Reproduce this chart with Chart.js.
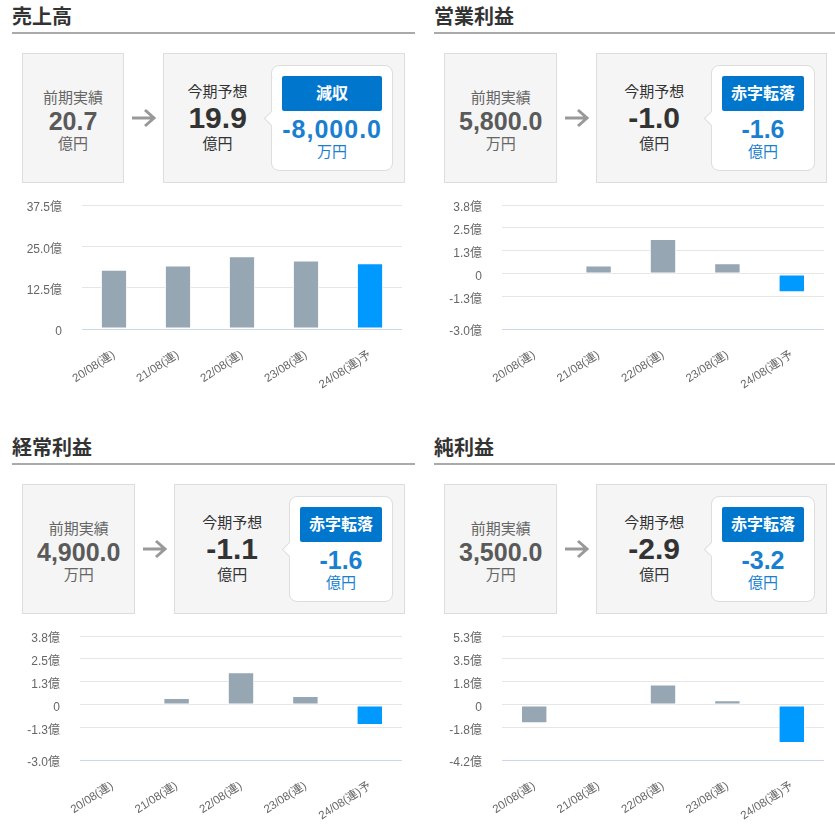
<!DOCTYPE html>
<html lang="ja">
<head>
<meta charset="utf-8">
<script src="https://cdn.jsdelivr.net/npm/chart.js@4.4.0/dist/chart.umd.min.js"></script>
<style>
  body { margin: 0; width: 835px; height: 829px; background: #fff; position: relative; overflow: hidden;
    font-family: "Liberation Sans", Arial, "Noto Sans CJK JP", sans-serif; }
  .panel { position: absolute; height: 431px; }
  .title { position: absolute; top: 7px; left: 0; right: 0; height: 25px; font-size: 20px; line-height: 20px;
    font-weight: bold; color: #333; border-bottom: 2px solid #aaa; }
  .row { position: absolute; top: 53px; left: 10px; width: 383px; height: 130px; display: flex; }
  .prev { box-sizing: border-box; min-width: 102px; padding: 6px 14px 0; background: #f5f5f5; border: 1px solid #ddd;
    display: flex; flex-direction: column; justify-content: center; align-items: center; }
  .arrow { width: 25px; margin: 0 7px; display: flex; align-items: center; }
  .fc { flex: 1; box-sizing: border-box; background: #f5f5f5; border: 1px solid #ddd; display: flex;
    align-items: center; padding-right: 11px; }
  .fc-main { flex: 1; display: flex; flex-direction: column; align-items: center; }
  .lbl { font-size: 15px; line-height: 20px; color: #666; }
  .num { font-size: 25px; line-height: 26px; font-weight: bold; color: #5a5a5a; }
  .unit { font-size: 15px; line-height: 20px; color: #666; }
  .fc .lbl, .fc .unit { color: #333; }
  .fc .num { font-size: 30px; line-height: 32px; color: #333; }
  .pop { position: relative; background: #fff; border: 1px solid #ddd; border-radius: 8px; padding: 10px;
    display: flex; flex-direction: column; text-align: center; }
  .pop::before { content: ''; position: absolute; left: -6px; top: 50%; width: 10px; height: 10px; margin-top: -5px;
    background: #fff; border-left: 1px solid #ddd; border-bottom: 1px solid #ddd; transform: rotate(45deg); }
  .badge { background: #0077cc; color: #fff; font-weight: bold; font-size: 16px; height: 35px; line-height: 35px;
    padding: 0 9px; border-radius: 2px; }
  .pnum { color: #1a7fd0; font-weight: bold; font-size: 25px; line-height: 28px; margin-top: 4px; }
  .pnum.wide { letter-spacing: 1px; }
  .punit { color: #1a7fd0; font-size: 15px; line-height: 17px; }
  .chart { position: absolute; top: 195px; left: 0; width: 390px; height: 200px; }
</style>
</head>
<body>

<div class="panel" style="left:12px; top:0; width:403px;">
  <div class="title">売上高</div>
  <div class="row">
    <div class="prev"><div class="lbl">前期実績</div><div class="num">20.7</div><div class="unit">億円</div></div>
    <div class="arrow"><svg width="25" height="20"><path d="M1 10 H23 M14 2 L23 10 L14 18" stroke="#999" stroke-width="3" fill="none"/></svg></div>
    <div class="fc">
      <div class="fc-main"><div class="lbl">今期予想</div><div class="num">19.9</div><div class="unit">億円</div></div>
      <div class="pop"><div class="badge">減収</div><div class="pnum wide">-8,000.0</div><div class="punit">万円</div></div>
    </div>
  </div>
  <div class="chart"><canvas id="salesChart"></canvas></div>
</div>

<div class="panel" style="left:434px; top:0; width:401px;">
  <div class="title">営業利益</div>
  <div class="row">
    <div class="prev"><div class="lbl">前期実績</div><div class="num">5,800.0</div><div class="unit">万円</div></div>
    <div class="arrow"><svg width="25" height="20"><path d="M1 10 H23 M14 2 L23 10 L14 18" stroke="#999" stroke-width="3" fill="none"/></svg></div>
    <div class="fc">
      <div class="fc-main"><div class="lbl">今期予想</div><div class="num">-1.0</div><div class="unit">億円</div></div>
      <div class="pop"><div class="badge">赤字転落</div><div class="pnum">-1.6</div><div class="punit">億円</div></div>
    </div>
  </div>
  <div class="chart"><canvas id="operatingChart"></canvas></div>
</div>

<div class="panel" style="left:12px; top:431px; width:403px;">
  <div class="title">経常利益</div>
  <div class="row">
    <div class="prev"><div class="lbl">前期実績</div><div class="num">4,900.0</div><div class="unit">万円</div></div>
    <div class="arrow"><svg width="25" height="20"><path d="M1 10 H23 M14 2 L23 10 L14 18" stroke="#999" stroke-width="3" fill="none"/></svg></div>
    <div class="fc">
      <div class="fc-main"><div class="lbl">今期予想</div><div class="num">-1.1</div><div class="unit">億円</div></div>
      <div class="pop"><div class="badge">赤字転落</div><div class="pnum">-1.6</div><div class="punit">億円</div></div>
    </div>
  </div>
  <div class="chart"><canvas id="ordinaryChart"></canvas></div>
</div>

<div class="panel" style="left:434px; top:431px; width:401px;">
  <div class="title">純利益</div>
  <div class="row">
    <div class="prev"><div class="lbl">前期実績</div><div class="num">3,500.0</div><div class="unit">万円</div></div>
    <div class="arrow"><svg width="25" height="20"><path d="M1 10 H23 M14 2 L23 10 L14 18" stroke="#999" stroke-width="3" fill="none"/></svg></div>
    <div class="fc">
      <div class="fc-main"><div class="lbl">今期予想</div><div class="num">-2.9</div><div class="unit">億円</div></div>
      <div class="pop"><div class="badge">赤字転落</div><div class="pnum">-3.2</div><div class="punit">億円</div></div>
    </div>
  </div>
  <div class="chart"><canvas id="netChart"></canvas></div>
</div>

<script>
// Fiscal periods (last one is the forecast)
const categories = ['20/08(連)', '21/08(連)', '22/08(連)', '23/08(連)', '24/08(連)予'];

// Values in 億円
const salesValues = [17.9, 19.2, 22.0, 20.7, 19.9];
const operatingValues = [0, 0.45, 1.9, 0.58, -1.0];
const ordinaryValues = [-0.08, 0.38, 1.78, 0.49, -1.1];
const netValues = [-1.4, 0, 1.55, 0.35, -2.9];

// Y axis tick values
const salesTicks = [0, 12.5, 25, 37.5];
const operatingTicks = [-3.0, -1.25, 0, 1.25, 2.5, 3.75];
const ordinaryTicks = [-3.0, -1.25, 0, 1.25, 2.5, 3.75];
const netTicks = [-4.2, -1.75, 0, 1.75, 3.5, 5.25];

Chart.defaults.font.family = '"Liberation Sans", Arial, "Noto Sans CJK JP", sans-serif';
Chart.defaults.animation = false;

function drawChart(id, values, ticks, axisWidth) {
    new Chart(document.getElementById(id), {
        type: 'bar',
        data: {
            labels: categories,
            datasets: [{
                data: values,
                backgroundColor: (ctx) => ctx.dataIndex === values.length - 1 ? '#0099ff' : '#96a6b2',
                borderColor: '#fff',
                borderWidth: 1,
                borderSkipped: false,
                categoryPercentage: 1,
                barPercentage: 0.41,
            }],
        },
        options: {
            responsive: true,
            maintainAspectRatio: false,
            layout: { padding: { top: 10, right: 0, left: 0, bottom: 0 } },
            plugins: { legend: { display: false }, tooltip: { enabled: false } },
            scales: {
                x: {
                    grid: { display: false, drawTicks: false },
                    border: { display: false },
                    ticks: { color: '#666', font: { size: 11.5 }, minRotation: 33, maxRotation: 33, padding: 19, autoSkip: false },
                    afterFit: (s) => { s.height = 66; s.paddingTop = 0; s.paddingBottom = 0; },
                },
                y: {
                    min: ticks[0],
                    max: ticks[ticks.length - 1],
                    afterBuildTicks: (s) => { s.ticks = ticks.map(v => ({ value: v })); },
                    afterFit: (s) => { s.width = axisWidth; s.paddingTop = 0; s.paddingBottom = 0; },
                    border: { display: false },
                    grid: {
                        drawTicks: false,
                        color: (c) => (c.tick && c.tick.value === ticks[0]) ? '#ccd6eb' : '#e6e6e6',
                    },
                    ticks: {
                        color: '#666',
                        font: { size: 12 },
                        padding: 20,
                        labelOffset: 3,
                        callback: (v) => v === 0 ? '0' : v.toFixed(1) + '億',
                    },
                },
            },
        },
    });
}

drawChart('salesChart', salesValues, salesTicks, 70);
drawChart('operatingChart', operatingValues, operatingTicks, 68);
drawChart('ordinaryChart', ordinaryValues, ordinaryTicks, 68);
drawChart('netChart', netValues, netTicks, 68);
</script>
</body>
</html>
